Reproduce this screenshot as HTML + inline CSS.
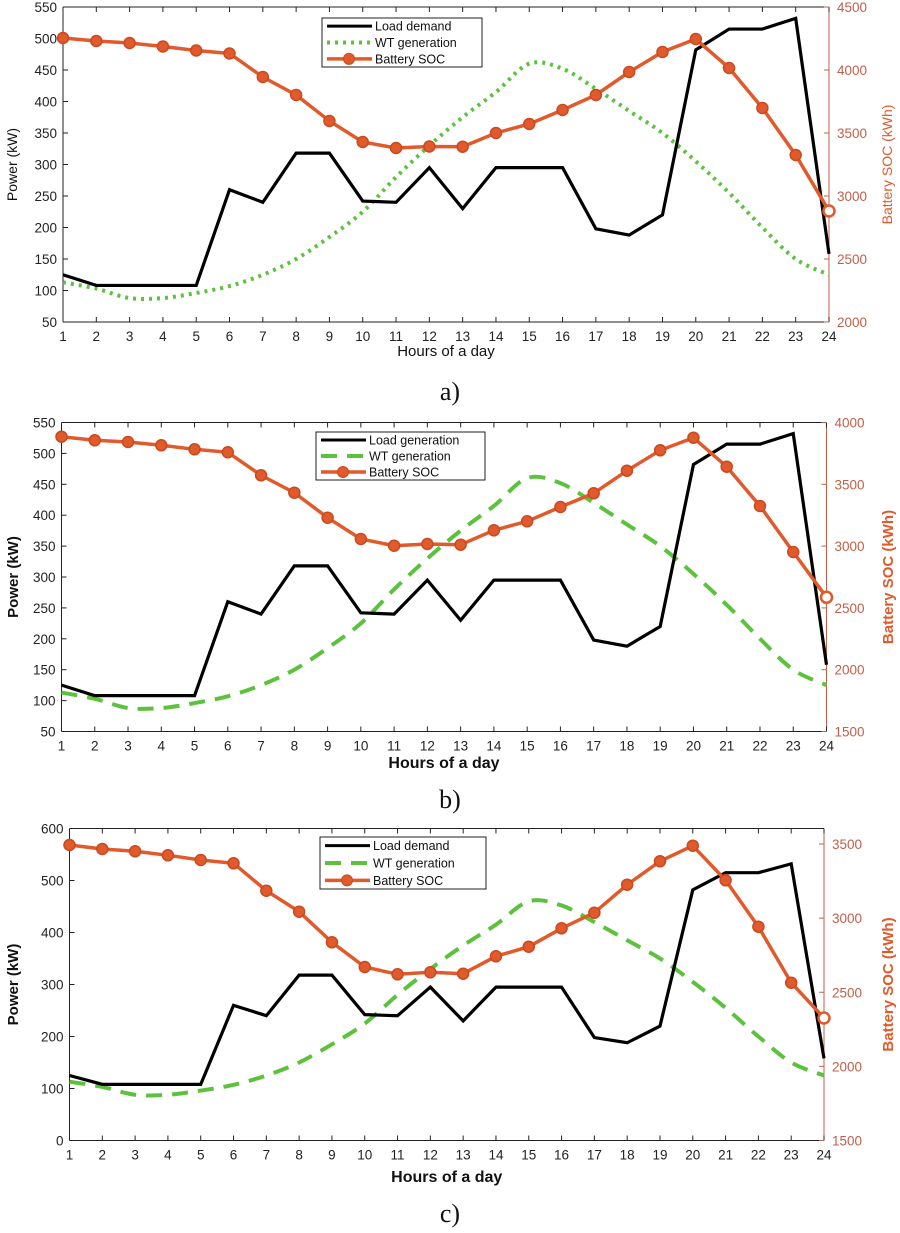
<!DOCTYPE html>
<html><head><meta charset="utf-8"><style>
html,body{margin:0;padding:0;background:#fff;}
svg text{font-family:"Liberation Sans",sans-serif;}
</style></head><body>
<svg id="s" width="900" height="1228" xmlns="http://www.w3.org/2000/svg"></svg>
<script>
const S=document.getElementById('s');let h='';
const load=[125,108,108,108,108,260,240,318,318,242,240,295,230,295,295,295,198,188,220,482,515,515,532,158];
const wt=[113,103,88,88,96,107,125,150,185,225,280,330,375,415,460,452,420,385,350,305,255,200,150,125];
const socs=[
[38,41,43,46.5,50.5,53.5,77,95,121,142,148,146.5,146.7,133,124,110,95,72,52,39,68,108,155,211],
[436.7,440.3,442,445.3,449.3,452.3,475.3,492.7,517.7,539,545.7,544,544.7,530.3,521.3,507,493.3,470.7,450.3,437.7,466.7,506,552,597.3],
[845,849,851.3,855.3,860,863.3,890.7,911.7,942.3,967,974.3,972.3,973.7,956.3,946.7,928.3,912.7,884.7,861.3,845.7,880.3,926.7,982.7,1018]];
const P=[
 {x0:63,x1:829,yt:7,yb:322,lmin:50,lmax:550,lstep:50,rmin:2000,rmax:4500,rstep:500,rtop:7,rbot:322,bold:false,dash:'3 5',cap:'a)',capy:400,xl:'Hours of a day',xly:356,leg:[322,18,482,67],names:['Load demand','WT generation','Battery SOC']},
 {x0:61.5,x1:826.5,yt:422.5,yb:731.5,lmin:50,lmax:550,lstep:50,rmin:1500,rmax:4000,rstep:500,rtop:422.5,rbot:731.5,bold:true,dash:'16 10',cap:'b)',capy:808,xl:'Hours of a day',xly:768,leg:[316,432,485,480],names:['Load generation','WT generation','Battery SOC']},
 {x0:69.5,x1:824,yt:828.5,yb:1140.5,lmin:0,lmax:600,lstep:100,rmin:1500,rmax:3500,rstep:500,rtop:844,rbot:1140.5,bold:true,dash:'16 10',cap:'c)',capy:1222,xl:'Hours of a day',xly:1182,leg:[320,837,486,889],names:['Load demand','WT generation','Battery SOC']}];
const RED='#e05a2b',RAX='#c0604a';
P.forEach((p,k)=>{
 const X=i=>p.x0+(p.x1-p.x0)*(i)/23;
 const Y=v=>p.yb-(v-p.lmin)/(p.lmax-p.lmin)*(p.yb-p.yt);
 const R=v=>p.rbot-(v-p.rmin)/(p.rmax-p.rmin)*(p.rbot-p.rtop);
 // axes
 h+=`<line x1="${p.x0}" y1="${p.yt}" x2="${p.x1}" y2="${p.yt}" stroke="#222" stroke-width="1"/>`;
 h+=`<line x1="${p.x0}" y1="${p.yt}" x2="${p.x0}" y2="${p.yb}" stroke="#222" stroke-width="1"/>`;
 h+=`<line x1="${p.x0}" y1="${p.yb}" x2="${p.x1}" y2="${p.yb}" stroke="#222" stroke-width="1"/>`;
 h+=`<line x1="${p.x1}" y1="${p.yt}" x2="${p.x1}" y2="${p.yb}" stroke="${RAX}" stroke-width="1"/>`;
 for(let i=0;i<24;i++){const x=X(i);
  h+=`<line x1="${x}" y1="${p.yb}" x2="${x}" y2="${p.yb-5}" stroke="#222"/><line x1="${x}" y1="${p.yt}" x2="${x}" y2="${p.yt+5}" stroke="#222"/>`;
  h+=`<text x="${x}" y="${p.yb+19}" font-size="13.5" text-anchor="middle" fill="#222">${i+1}</text>`;}
 for(let v=p.lmin;v<=p.lmax;v+=p.lstep){const y=Y(v);
  h+=`<line x1="${p.x0}" y1="${y}" x2="${p.x0+5}" y2="${y}" stroke="#222"/>`;
  h+=`<text x="${p.x0-6}" y="${y+5}" font-size="13.5" text-anchor="end" fill="#222">${v}</text>`;}
 for(let v=p.rmin;v<=p.rmax;v+=p.rstep){const y=R(v);
  h+=`<line x1="${p.x1}" y1="${y}" x2="${p.x1-5}" y2="${y}" stroke="${RAX}"/>`;
  h+=`<text x="${p.x1+8}" y="${y+5}" font-size="13.5" fill="${RAX}">${v}</text>`;}
 const fw=p.bold?'bold':'normal';
 const my=(p.yt+p.yb)/2;
 h+=`<text transform="translate(${p.bold?18:17},${my}) rotate(-90)" font-size="${p.bold?15:14}" font-weight="${fw}" text-anchor="middle" fill="#111">Power (kW)</text>`;
 h+=`<text transform="translate(${p.bold?893:892},${my}) rotate(-90)" font-size="${p.bold?15:14}" font-weight="${fw}" text-anchor="middle" fill="${RED}">Battery SOC (kWh)</text>`;
 h+=`<text x="${(p.x0+p.x1)/2}" y="${p.xly}" font-size="${p.bold?16:15}" font-weight="${fw}" text-anchor="middle" fill="#111">${p.xl}</text>`;
 h+=`<text x="450" y="${p.capy}" font-size="26" text-anchor="middle" font-family="Liberation Serif,serif" style="font-family:'Liberation Serif',serif" fill="#111">${p.cap}</text>`;
 // WT smooth
 const pts=wt.map((v,i)=>[X(i),Y(v)]);
 let d=`M${pts[0][0]},${pts[0][1]}`;
 for(let i=0;i<23;i++){const p0=pts[Math.max(0,i-1)],p1=pts[i],p2=pts[i+1],p3=pts[Math.min(23,i+2)];
  d+=` C${p1[0]+(p2[0]-p0[0])/6},${p1[1]+(p2[1]-p0[1])/6} ${p2[0]-(p3[0]-p1[0])/6},${p2[1]-(p3[1]-p1[1])/6} ${p2[0]},${p2[1]}`;}
 h+=`<path d="${d}" fill="none" stroke="#5cc23e" stroke-width="${p.bold?4:4}" stroke-dasharray="${p.dash}"/>`;
 h+=`<polyline points="${load.map((v,i)=>X(i)+','+Y(v)).join(' ')}" fill="none" stroke="#000" stroke-width="3.2" stroke-linejoin="miter"/>`;
 const sp=socs[k].map((y,i)=>[X(i),y]);
 h+=`<polyline points="${sp.map(a=>a.join(',')).join(' ')}" fill="none" stroke="${RED}" stroke-width="3.5"/>`;
 sp.forEach((a,i)=>{h+=`<circle cx="${a[0]}" cy="${a[1]}" r="5.5" fill="${i==23?'#fff':RED}" stroke="${i==23?RED:'#c94a22'}" stroke-width="${i==23?2.5:1.5}"/>`;});
 // legend
 const [lx,ly,rx,by]=p.leg;const lh=(by-ly)/3;
 h+=`<rect x="${lx}" y="${ly}" width="${rx-lx}" height="${by-ly}" fill="#fff" stroke="#222" stroke-width="1"/>`;
 for(let j=0;j<3;j++){const yy=ly+lh*(j+0.5);
  const st=j==0?'stroke="#000" stroke-width="3"':j==1?`stroke="#5cc23e" stroke-width="4" stroke-dasharray="${p.dash}"`:`stroke="${RED}" stroke-width="3.5"`;
  h+=`<line x1="${lx+5}" y1="${yy}" x2="${lx+50}" y2="${yy}" ${st}/>`;
  if(j==2)h+=`<circle cx="${lx+27}" cy="${yy}" r="5.5" fill="${RED}" stroke="#c94a22"/>`;
  h+=`<text x="${lx+53}" y="${yy+4.5}" font-size="12.5" fill="#111">${p.names[j]}</text>`;}
});
S.innerHTML=h;
</script>
</body></html>
